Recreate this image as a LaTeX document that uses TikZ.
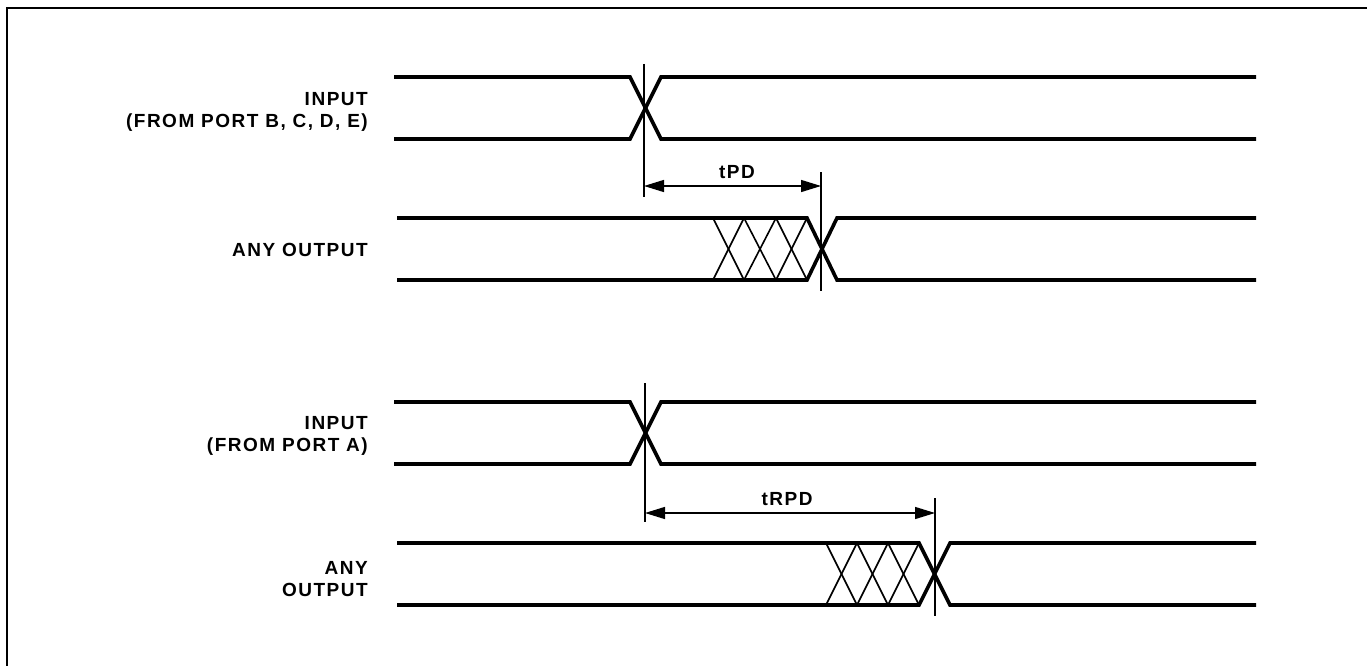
\documentclass[tikz,border=0pt]{standalone}
\usepackage{fontspec}
\setmainfont{Liberation Sans}[LetterSpace=8]
\usetikzlibrary{arrows.meta}
\begin{document}
\begin{tikzpicture}[x=1pt,y=-1pt,
  sig/.style={line width=3.6pt,line join=miter},
  thinl/.style={line width=1.4pt},
  hatch/.style={line width=1.6pt},
  lbl/.style={font=\fontsize{19}{22}\selectfont\bfseries,align=right,anchor=east,inner sep=0pt},
  tlbl/.style={font=\fontsize{19}{22}\selectfont\bfseries,inner sep=0pt},
  dim/.style={line width=1.4pt,{Triangle[length=20pt,width=12pt]}-{Triangle[length=20pt,width=12pt]}}]
\useasboundingbox (0,0) rectangle (1367,666);
\clip (0,0) rectangle (1367,666);
\fill[white] (0,0) rectangle (1367,666);
% frame
\draw[line width=2pt] (7,700) -- (7,8) -- (1400,8);
% ---- group 1 ----
\node[lbl] (in1) at (368,112) {INPUT\\(FROM PORT B, C, D, E)};
\draw[sig] (394,77) -- (630,77) -- (661,139) -- (1256,139);
\draw[sig] (394,139) -- (630,139) -- (661,77) -- (1256,77);
\node[lbl] (out1) at (368,250) {ANY OUTPUT};
\draw[sig] (397,218) -- (807,218) -- (837,280) -- (1256,280);
\draw[sig] (397,280) -- (807,280) -- (837,218) -- (1256,218);
\foreach \a/\b in {713/744,744/776,776/807}{
  \draw[hatch] (\a,218) -- (\b,280);
  \draw[hatch] (\a,280) -- (\b,218);
}
\coordinate (v1t) at (644,64);
\coordinate (v1b) at (644,197);
\coordinate (v2t) at (821,172);
\coordinate (v2b) at (821,291);
\draw[thinl] (v1t) -- (v1b);
\draw[thinl] (v2t) -- (v2b);
\coordinate (a1) at (644,186);
\coordinate (a2) at (821,186);
\draw[dim] (a1) -- (a2);
\node[tlbl] (tpd) at (737,172) {tPD};
% ---- group 2 ----
\node[lbl] (in2) at (368,436) {INPUT\\(FROM PORT A)};
\draw[sig] (394,402) -- (630,402) -- (661,464) -- (1256,464);
\draw[sig] (394,464) -- (630,464) -- (661,402) -- (1256,402);
\node[lbl] (out2) at (368,579) {ANY\\OUTPUT};
\draw[sig] (397,543) -- (919,543) -- (950,605) -- (1256,605);
\draw[sig] (397,605) -- (919,605) -- (950,543) -- (1256,543);
\foreach \a/\b in {826/857,857/888,888/919}{
  \draw[hatch] (\a,543) -- (\b,605);
  \draw[hatch] (\a,605) -- (\b,543);
}
\coordinate (v3t) at (645,383);
\coordinate (v3b) at (645,522);
\coordinate (v4t) at (935,498);
\coordinate (v4b) at (935,616);
\draw[thinl] (v3t) -- (v3b);
\draw[thinl] (v4t) -- (v4b);
\coordinate (a3) at (645,513);
\coordinate (a4) at (935,513);
\draw[dim] (a3) -- (a4);
\node[tlbl] (trpd) at (787,499) {tRPD};
\end{tikzpicture}
\end{document}
